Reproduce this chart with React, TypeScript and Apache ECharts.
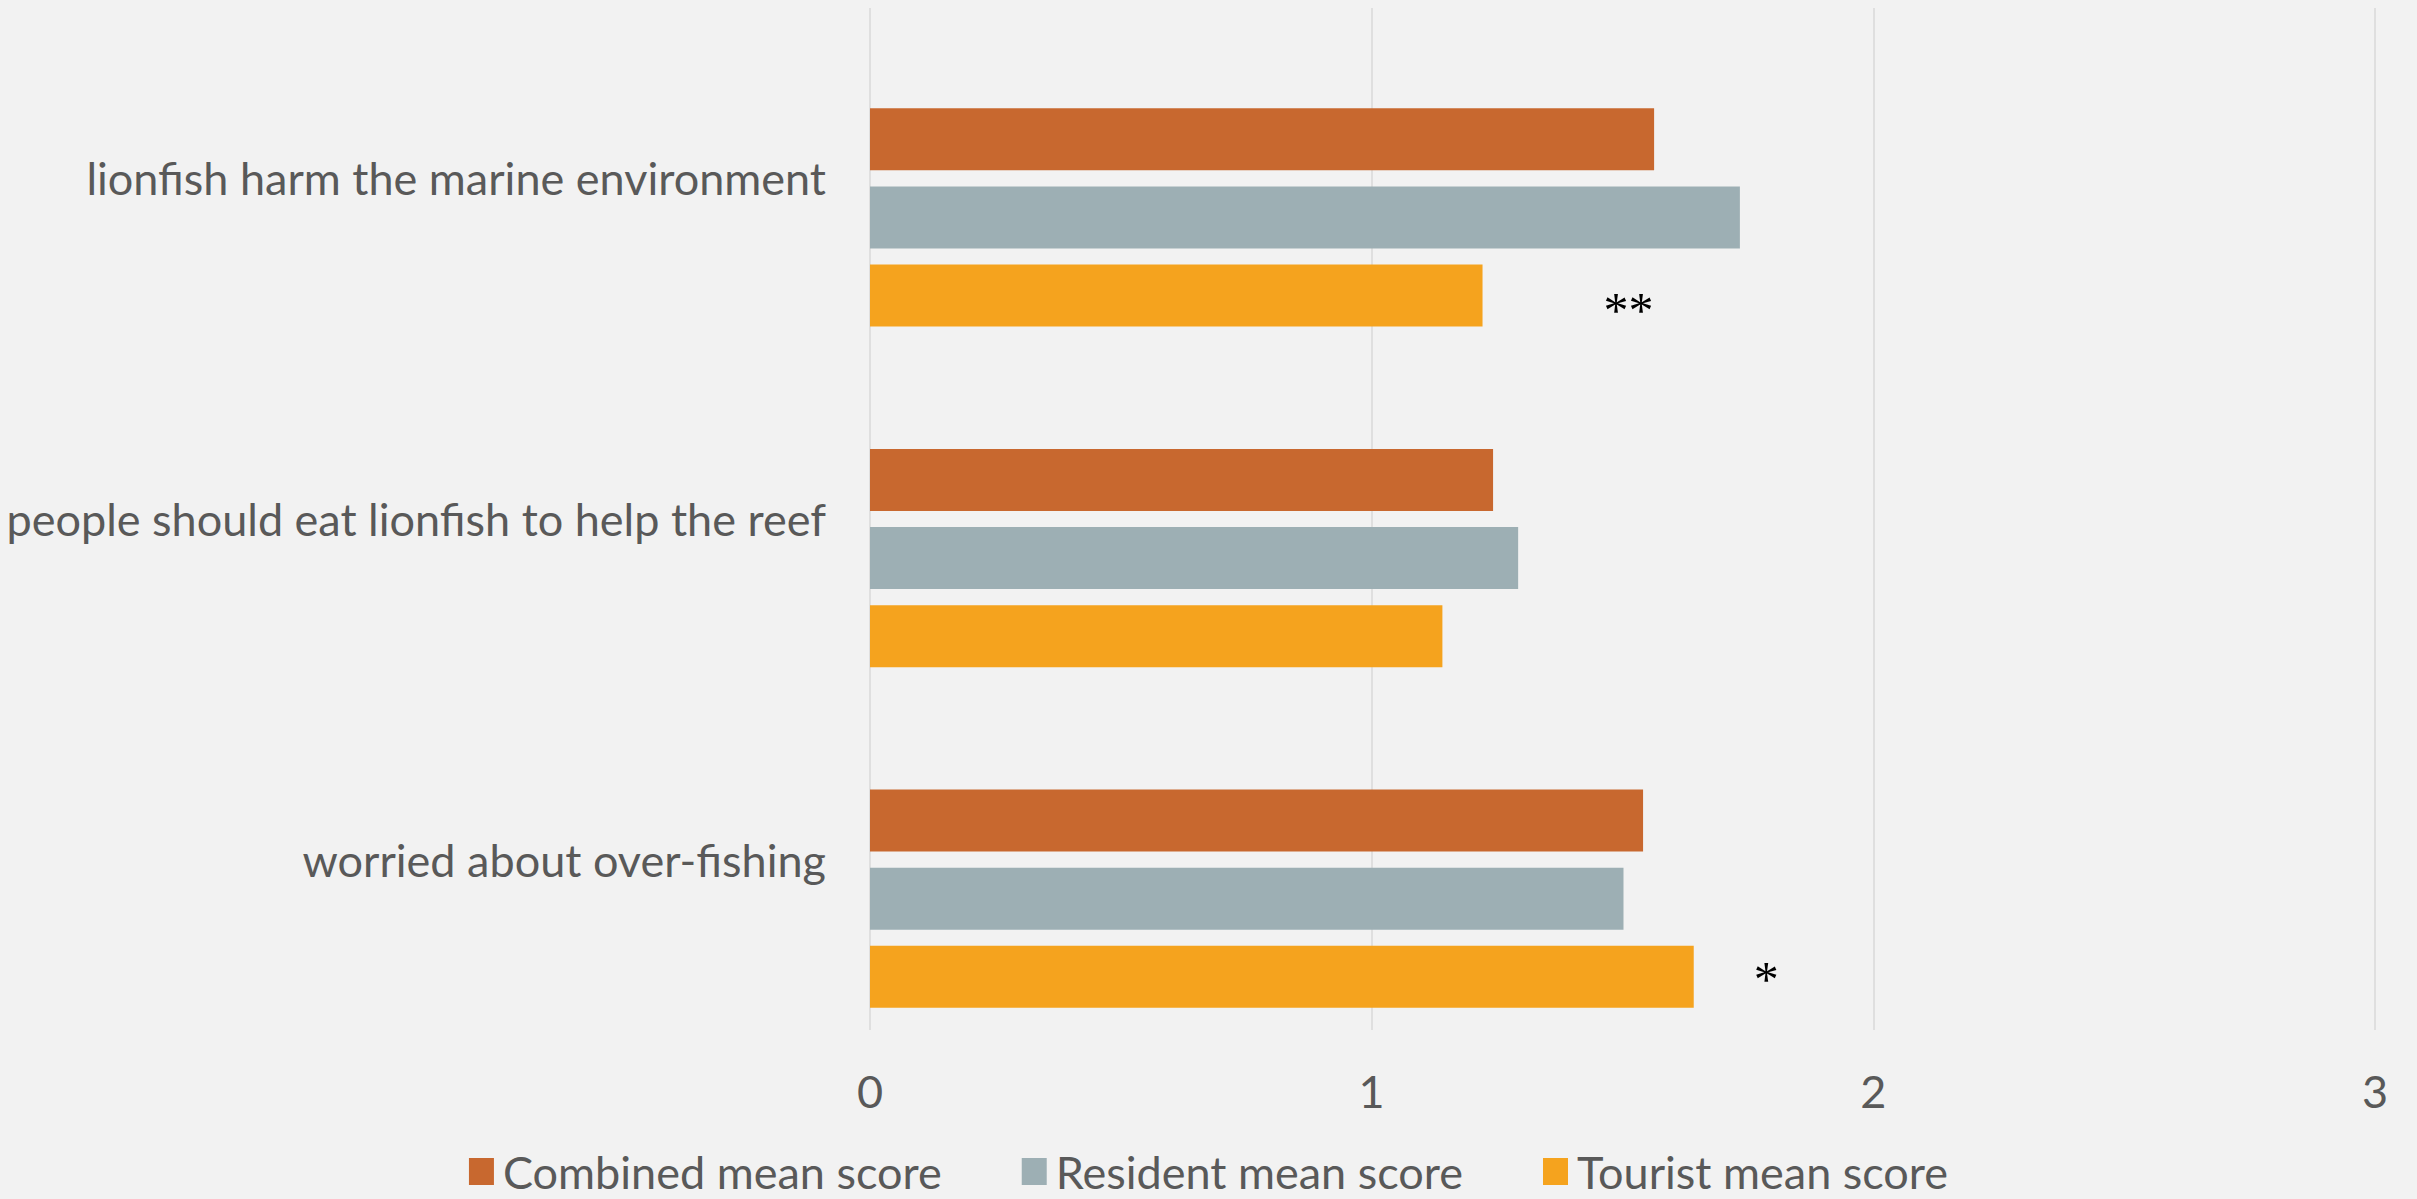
import React, { useEffect, useRef } from "react";
import * as echarts from "echarts";

const categories = [
  "lionfish harm the marine environment",
  "people should eat lionfish to help the reef",
  "worried about over-fishing",
];
const seriesNames = ["Combined mean score", "Resident mean score", "Tourist mean score"];
const combined = [1.563, 1.242, 1.541];
const resident = [1.734, 1.292, 1.502];
const tourist = [1.221, 1.141, 1.642];
const significance = ["**", "", "*"];
const xTicks = [0, 1, 2, 3];

const colors = ["#C8682F", "#9DAFB4", "#F5A31E"];
const FONT = "Lato, 'Open Sans', sans-serif";

export default function App() {
  const ref = useRef<HTMLDivElement>(null);
  useEffect(() => {
    document.body.style.margin = "0";
    document.body.style.background = "#F2F2F2";
    const chart = echarts.init(ref.current!, null, { renderer: "svg" });
    const sigDist = [121, 0, 60];
    const sigOffset = [[0, 14], [0, 0], [0, 2]];
    const touristData = tourist.map((v, i) =>
      significance[i]
        ? {
            value: v,
            label: {
              show: true,
              position: "right",
              distance: sigDist[i],
              offset: sigOffset[i],
              formatter: significance[i],
              color: "#000000",
              fontSize: 50,
              fontFamily: "'Liberation Serif', serif",
            },
          }
        : v
    );
    chart.setOption({
      animation: false,
      backgroundColor: "#F2F2F2",
      textStyle: { fontFamily: FONT },
      grid: { left: 870, right: 42, top: 8, bottom: 169, containLabel: false },
      legend: {
        data: seriesNames,
        bottom: 0,
        left: "center",
        icon: "rect",
        itemWidth: 25,
        itemHeight: 27,
        itemGap: 80,
        textStyle: { color: "#595959", fontSize: 45, fontFamily: FONT, padding: [0, 0, 0, 4] },
      },
      xAxis: {
        type: "value",
        min: xTicks[0],
        max: xTicks[xTicks.length - 1],
        interval: 1,
        axisLine: { show: false },
        axisTick: { show: false },
        splitLine: { show: true, lineStyle: { color: "#D9D9D9", width: 1.5 } },
        axisLabel: { color: "#595959", fontSize: 45, margin: 38, fontFamily: FONT },
      },
      yAxis: {
        type: "category",
        data: categories,
        inverse: true,
        axisLine: { show: false },
        axisTick: { show: false },
        axisLabel: { color: "#595959", fontSize: 45, margin: 44, fontFamily: FONT },
      },
      series: [
        {
          name: "spacer",
          type: "bar",
          data: [],
          barWidth: 62,
          barGap: "26%",
        },
        {
          name: seriesNames[0],
          type: "bar",
          data: combined,
          barWidth: 62,
          barGap: "26%",
          itemStyle: { color: colors[0] },
        },
        {
          name: seriesNames[1],
          type: "bar",
          data: resident,
          barWidth: 62,
          barGap: "26%",
          itemStyle: { color: colors[1] },
        },
        {
          name: seriesNames[2],
          type: "bar",
          data: touristData,
          barWidth: 62,
          barGap: "26%",
          itemStyle: { color: colors[2] },
        },
      ],
    });
    return () => chart.dispose();
  }, []);
  return <div ref={ref} style={{ width: 2417, height: 1199 }} />;
}
